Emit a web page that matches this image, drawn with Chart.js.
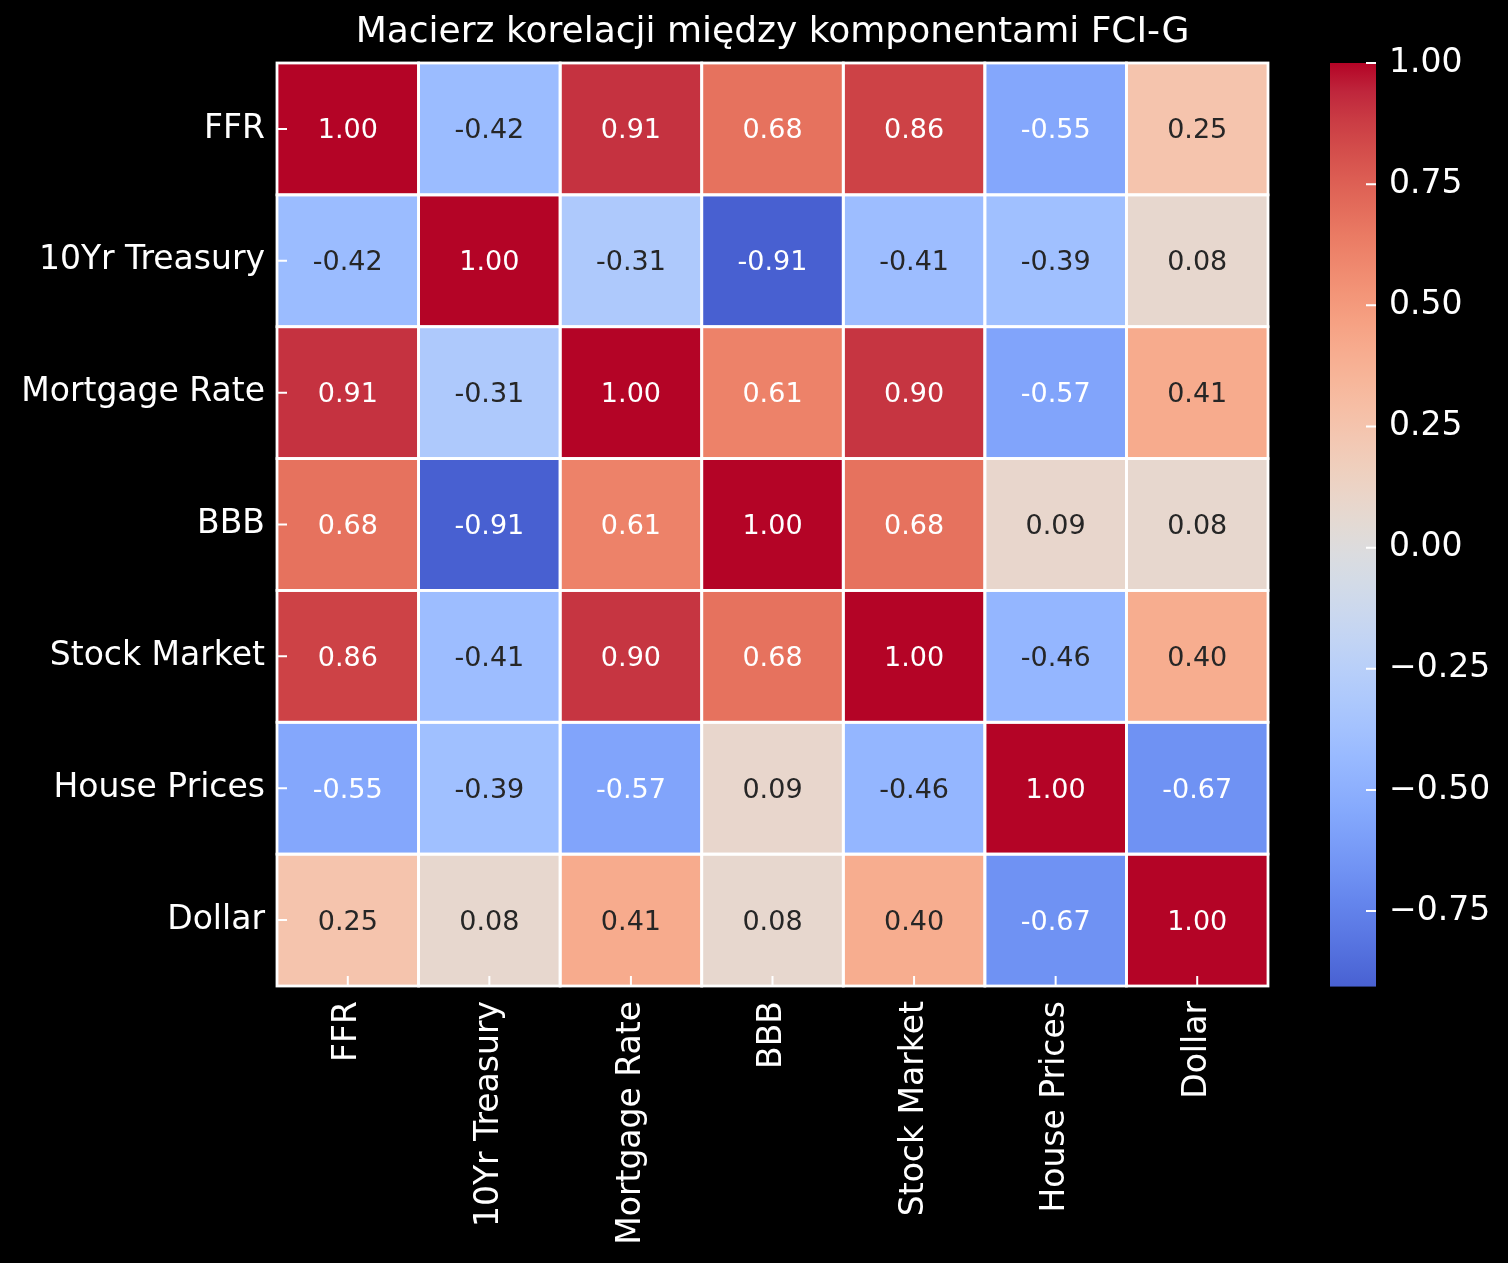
<!DOCTYPE html>
<html>
<head>
<meta charset="utf-8">
<script src="https://cdn.jsdelivr.net/npm/chart.js@4.4.0/dist/chart.umd.min.js"></script>
<style>
body { margin: 0; background: #000; }
#wrap { position: relative; width: 1508px; height: 1263px; }
#heat { position: absolute; left: 0; top: 0; width: 1508px; height: 1263px; }
#bar { position: absolute; left: 1300px; top: 0; width: 208px; height: 1263px; }
</style>
</head>
<body>
<div id="wrap">
  <div id="heat"><canvas id="heatmap"></canvas></div>
  <div id="bar"><canvas id="colorbar"></canvas></div>
</div>
<script>
// komponenty FCI-G
var names = ['FFR', '10Yr Treasury', 'Mortgage Rate', 'BBB', 'Stock Market', 'House Prices', 'Dollar'];
var ffr        = [1.00, -0.42, 0.91, 0.68, 0.86, -0.55, 0.25];
var treasury10 = [-0.42, 1.00, -0.31, -0.91, -0.41, -0.39, 0.08];
var mortgage   = [0.91, -0.31, 1.00, 0.61, 0.90, -0.57, 0.41];
var bbb        = [0.68, -0.91, 0.61, 1.00, 0.68, 0.09, 0.08];
var stock      = [0.86, -0.41, 0.90, 0.68, 1.00, -0.46, 0.40];
var house      = [-0.55, -0.39, -0.57, 0.09, -0.46, 1.00, -0.67];
var dollar     = [0.25, 0.08, 0.41, 0.08, 0.40, -0.67, 1.00];
var rows = [ffr, treasury10, mortgage, bbb, stock, house, dollar];

// zakres paska kolorów, kolory wycentrowane na 0
var colorMin = -0.906;
var colorMax = 1.0;
var colorCenter = 0;
var barTicks = [-0.75, -0.5, -0.25, 0, 0.25, 0.5, 0.75, 1.0];

// coolwarm (matplotlib)
var cwR = [0.2298057,0.26623388,0.30386891,0.342804478,0.38301334,0.424369608,0.46666708,0.509635204,0.552953156,0.596262162,0.639176211,0.681291281,0.722193294,0.761464949,0.798691636,0.833466556,0.865395197,0.897787179,0.924127593,0.944468518,0.958852946,0.96732803,0.969954137,0.966811177,0.958003065,0.943660866,0.923944917,0.89904617,0.869186849,0.834620542,0.795631745,0.752534934,0.705673158];
var cwG = [0.298717966,0.353094838,0.406535296,0.458757618,0.50941904,0.558148092,0.604562568,0.648280772,0.688929332,0.726149107,0.759599947,0.788964712,0.813952739,0.834302879,0.849786142,0.860207984,0.86541021,0.848937047,0.827384882,0.800927443,0.769767752,0.734132809,0.694266682,0.650421156,0.602842431,0.551750968,0.49730856,0.439559467,0.378313092,0.312874446,0.24128379,0.157246067,0.01555616];
var cwB = [0.753683153,0.801466763,0.84495867,0.883725899,0.917387822,0.945619588,0.968154911,0.98478814,0.995375608,0.999836203,0.998151185,0.990363227,0.976574709,0.956945269,0.931688648,0.901068838,0.865395561,0.820880546,0.774508472,0.726736146,0.678186763,0.629534157,0.581237713,0.533827412,0.487893512,0.444059118,0.402948062,0.365186082,0.330827732,0.298563505,0.267839674,0.238175993,0.150232812];

var vrange = Math.max(colorMax - colorCenter, colorCenter - colorMin);

function coolwarmT(t) {
  t = Math.max(0, Math.min(1, t));
  var p = t * 32, i = Math.min(31, Math.floor(p)), f = p - i;
  return [cwR[i] + (cwR[i + 1] - cwR[i]) * f,
          cwG[i] + (cwG[i + 1] - cwG[i]) * f,
          cwB[i] + (cwB[i + 1] - cwB[i]) * f];
}
function coolwarm(v) {
  return coolwarmT((v - (colorCenter - vrange)) / (2 * vrange));
}
function rgbStr(c) {
  return 'rgb(' + Math.round(c[0] * 255) + ',' + Math.round(c[1] * 255) + ',' + Math.round(c[2] * 255) + ')';
}
function textColor(v) {
  var lin = coolwarm(v).map(function(x) {
    return x <= 0.03928 ? x / 12.92 : Math.pow((x + 0.055) / 1.055, 2.4);
  });
  var lum = 0.2126 * lin[0] + 0.7152 * lin[1] + 0.0722 * lin[2];
  return lum > 0.408 ? 'rgb(38,38,38)' : '#fff';
}

Chart.defaults.font.family = '"DejaVu Sans", sans-serif';
Chart.defaults.color = '#fff';
Chart.defaults.animation = false;

var innerTicks = {
  id: 'innerTicks',
  afterDatasetsDraw: function(chart) {
    var c = chart.ctx, a = chart.chartArea;
    c.save();
    c.strokeStyle = '#fff';
    c.lineWidth = 2;
    c.beginPath();
    Object.values(chart.scales).forEach(function(s) {
      if (!s.options.display) return;
      s.ticks.forEach(function(t, i) {
        var p = s.getPixelForTick(i);
        if (s.position === 'bottom') { c.moveTo(p, a.bottom); c.lineTo(p, a.bottom - 10); }
        else if (s.position === 'left') { c.moveTo(a.left, p); c.lineTo(a.left + 10, p); }
        else if (s.position === 'right') { c.moveTo(a.right, p); c.lineTo(a.right - 10, p); }
      });
    });
    c.stroke();
    c.restore();
  }
};

// białe krawędzie komórek + wartości
var cellText = {
  id: 'cellText',
  afterDatasetsDraw: function(chart) {
    var c = chart.ctx;
    c.save();
    c.strokeStyle = '#fff';
    c.lineWidth = 2.8;
    chart.data.datasets.forEach(function(ds, i) {
      chart.getDatasetMeta(i).data.forEach(function(el) {
        var p = el.getProps(['x', 'y', 'base', 'width'], true);
        c.strokeRect(p.x - p.width / 2, Math.min(p.y, p.base), p.width, Math.abs(p.base - p.y));
      });
    });
    c.font = '27px "DejaVu Sans"';
    c.textAlign = 'center';
    c.textBaseline = 'alphabetic';
    chart.data.datasets.forEach(function(ds, i) {
      chart.getDatasetMeta(i).data.forEach(function(el, j) {
        var v = ds.values[j];
        c.fillStyle = textColor(v);
        c.fillText(v.toFixed(2), el.x, (el.y + el.base) / 2 + 9.5);
      });
    });
    c.restore();
  }
};

var datasets = rows.map(function(row, r) {
  return {
    label: names[r],
    data: row.map(function() { return [r, r + 1]; }),
    values: row,
    backgroundColor: row.map(function(v) { return rgbStr(coolwarm(v)); }),
    borderWidth: 0,
    borderSkipped: false,
    inflateAmount: 0,
    barPercentage: 1,
    categoryPercentage: 1,
    grouped: false
  };
});

new Chart(document.getElementById('heatmap'), {
  type: 'bar',
  data: { labels: names, datasets: datasets },
  options: {
    responsive: true,
    maintainAspectRatio: false,
    layout: { padding: { left: 0, right: 240, top: 0, bottom: 0 } },
    plugins: {
      legend: { display: false },
      tooltip: { enabled: false },
      title: {
        display: true,
        text: 'Macierz korelacji między komponentami FCI-G',
        color: '#fff',
        fullSize: false,
        font: { size: 36, weight: 'normal' },
        padding: { top: 10.9, bottom: 8.9 }
      }
    },
    scales: {
      x: {
        type: 'category',
        grid: { display: false, drawTicks: false },
        border: { display: false },
        ticks: { color: '#fff', font: { size: 33 }, maxRotation: 90, minRotation: 90, padding: 15, autoSkip: false },
        afterFit: function(s) { s.height = 277; }
      },
      y: {
        type: 'linear',
        min: 0,
        max: 7,
        reverse: true,
        grid: { display: false, drawTicks: false },
        border: { display: false },
        afterBuildTicks: function(s) {
          s.ticks = names.map(function(n, i) { return { value: i + 0.5 }; });
        },
        ticks: {
          color: '#fff',
          font: { size: 33 },
          padding: 12,
          autoSkip: false,
          callback: function(v, i) { return names[i]; }
        },
        afterFit: function(s) { s.width = 277; }
      }
    }
  },
  plugins: [cellText, innerTicks]
});

new Chart(document.getElementById('colorbar'), {
  type: 'bar',
  data: {
    labels: [''],
    datasets: [{
      data: [[colorMin, colorMax]],
      backgroundColor: function(ctx) {
        var ch = ctx.chart;
        if (!ch.chartArea) return 'transparent';
        var y = ch.scales.y;
        var g = ch.ctx.createLinearGradient(0, y.getPixelForValue(colorMin), 0, y.getPixelForValue(colorMax));
        for (var k = 0; k <= 32; k++) {
          var v = colorMin + (colorMax - colorMin) * k / 32;
          g.addColorStop(k / 32, rgbStr(coolwarm(v)));
        }
        return g;
      },
      borderWidth: 0,
      borderSkipped: false,
      inflateAmount: 0,
      barPercentage: 1,
      categoryPercentage: 1
    }]
  },
  options: {
    responsive: true,
    maintainAspectRatio: false,
    layout: { padding: { left: 30, right: 0, top: 63, bottom: 276.3 } },
    plugins: { legend: { display: false }, tooltip: { enabled: false }, title: { display: false } },
    scales: {
      x: { display: false },
      y: {
        position: 'right',
        min: colorMin,
        max: colorMax,
        grid: { display: false, drawTicks: false },
        border: { display: false },
        afterBuildTicks: function(s) {
          s.ticks = barTicks.map(function(v) { return { value: v }; });
        },
        ticks: {
          color: '#fff',
          font: { size: 33 },
          padding: 13,
          autoSkip: false,
          callback: function(v) { return v.toFixed(2).replace('-', '\u2212'); }
        },
        afterFit: function(s) { s.width = 132; }
      }
    }
  },
  plugins: [innerTicks]
});
</script>
</body>
</html>
